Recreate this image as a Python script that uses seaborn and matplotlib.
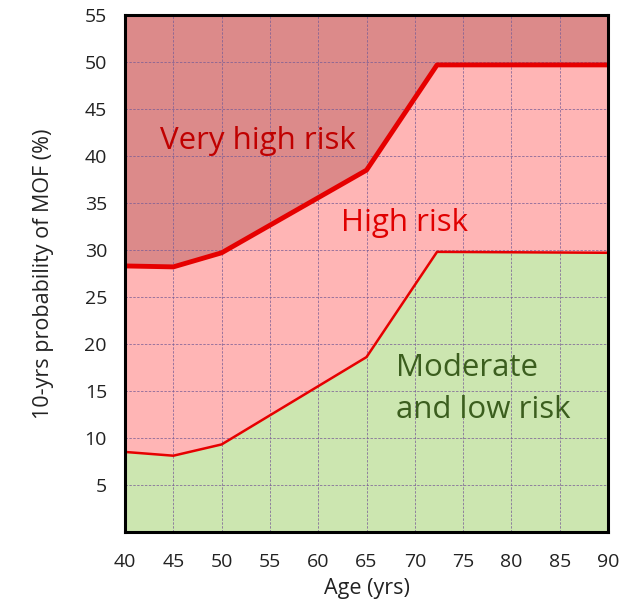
import numpy as np
import pandas as pd
import matplotlib
matplotlib.use("Agg")
import matplotlib.pyplot as plt
import seaborn as sns

# threshold values
age = [40, 45, 50, 65, 72.3, 90]
upper_thr = [28.3, 28.2, 29.7, 38.5, 49.7, 49.7]
lower_thr = [8.5, 8.1, 9.3, 18.6, 29.8, 29.7]

x_ticks = [40, 45, 50, 55, 60, 65, 70, 75, 80, 85, 90]
y_ticks = [5, 10, 15, 20, 25, 30, 35, 40, 45, 50, 55]

df = pd.DataFrame({'age': age, 'upper': upper_thr, 'lower': lower_thr})

sns.set_style("white")
plt.rcParams['font.family'] = ['Open Sans', 'DejaVu Sans']

fig = plt.figure(figsize=(6.38, 6.05), dpi=100)
ax = fig.add_axes([0.196, 0.121, 0.757, 0.854])

# shaded risk zones
ax.fill_between(df.age, df.upper, 55, color='#DC8A8A', zorder=0)
ax.fill_between(df.age, df.lower, df.upper, color='#FFB5B5', zorder=0)
ax.fill_between(df.age, 0, df.lower, color='#CCE6B0', zorder=0)

sns.lineplot(x='age', y='upper', data=df, ax=ax, color='#E60000', lw=3.5, zorder=3)
sns.lineplot(x='age', y='lower', data=df, ax=ax, color='#E60000', lw=1.8, zorder=3)

ax.set_xlim(40, 90)
ax.set_ylim(0, 55)
ax.set_xticks(x_ticks)
ax.set_yticks(y_ticks)
ax.tick_params(labelsize=14, length=0, colors='#222222')
ax.tick_params(axis='x', pad=15)
ax.tick_params(axis='y', pad=13)
ax.grid(True, ls=(0, (2.5, 1.5)), color='#7A5E96', lw=0.7, alpha=0.75, zorder=1)
ax.set_axisbelow(False)
for sp in ax.spines.values():
    sp.set_linewidth(2.2)
    sp.set_color('black')
    sp.set_zorder(5)

ax.set_xlabel('Age (yrs)', fontsize=15.5, color='#222222', labelpad=5)
ax.set_ylabel('10-yrs probability of MOF (%)', fontsize=15.5, color='#222222',
              labelpad=22)

ax.text(53.8, 41.6, 'Very high risk', fontsize=22.5, color='#C00000',
        ha='center', va='center', zorder=4)
ax.text(68.9, 32.9, 'High risk', fontsize=22.5, color='#E00000',
        ha='center', va='center', zorder=4)
ax.text(68.1, 15.2, 'Moderate\nand low risk', fontsize=22.5, color='#3B5E1E',
        ha='left', va='center', linespacing=1.5, zorder=4)

fig.savefig('out.png', dpi=100)
